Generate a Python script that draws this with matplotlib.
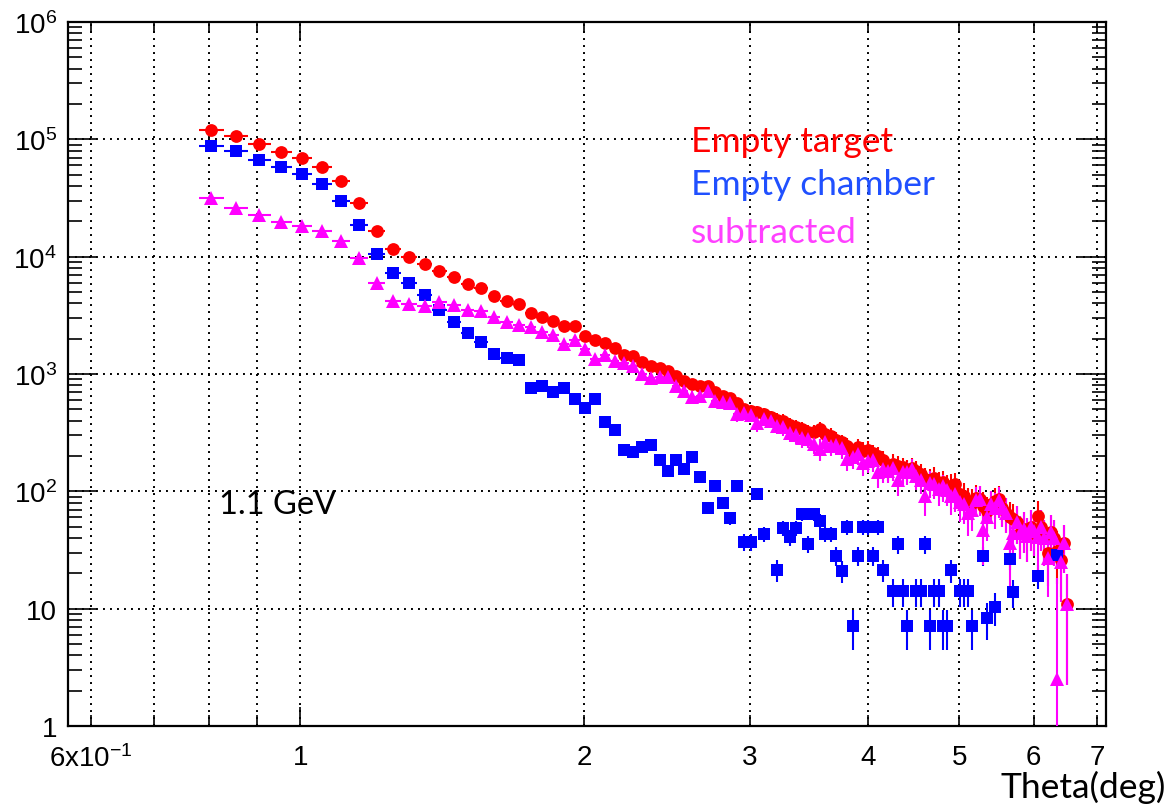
import numpy as np
import matplotlib
matplotlib.use('Agg')
import matplotlib.pyplot as plt
from matplotlib.ticker import FixedLocator, FixedFormatter, NullFormatter, LogLocator

plt.rcParams['font.family'] = ['Liberation Sans', 'DejaVu Sans']
plt.rcParams['mathtext.default'] = 'regular'

nan = np.nan

# bin centres, 0.05 deg wide bins
theta = np.round(0.805 + 0.05 * np.arange(115), 3)

# Empty target (red circles)
red = [1.2e5, 1.06e5, 9.1e4, 7.8e4, 7.0e4, 5.8e4, 4.4e4, 2.86e4, 1.67e4, 1.17e4,
       9.9e3, 8.7e3, 7.57e3, 6.69e3, 5.83e3, 5.38e3, 4.6e3, 4.2e3, 3.96e3, 3.3e3,
       3.07e3, 2.85e3, 2.55e3, 2.57e3, 2.12e3, 1.96e3, 1.82e3, 1.65e3, 1.46e3, 1.42e3,
       1.26e3, 1.18e3, 1.13e3, 1.07e3, 969, 868, 824, 787, 796, 700,
       655, 622, 564, 500, 485, 475, 460, 430, 408, 401,
       368, 352, 340, 323, 319, 340, 310, 298, 276, 262,
       245, 215, 238, 222, 227, 212, 200, 185, 155, 172,
       166, 160, 152, 158, 150, 140, 128, 125, 130, 118,
       120, 110, 112, 116, 95, 92, 83, 80, 88, 86,
       75, 68, 78, 82, 86, 72, 66, 60, 58, 55,
       44, 48, 42, 50, 46, 62, 50, 40, 30, 45,
       40, 31, 26, 36, 11]

# Empty chamber (blue squares), nan = empty bin
blue = [8.8e4, 8.0e4, 6.7e4, 5.8e4, 5.1e4, 4.15e4, 2.99e4, 1.87e4, 1.06e4, 7.3e3,
        6.0e3, 4.75e3, 3.52e3, 2.77e3, 2.24e3, 1.87e3, 1.47e3, 1.38e3, 1.32e3, 757,
        796, 700, 757, 614, 511, 614, 393, 333, 227, 215,
        238, 249, 185, 150, 185, 155, 195, 132, 72.6, 110,
        79.6, 59, 110, 36.8, 36.8, 94.5, 43.3, nan, 21.4, 48.7,
        40.6, 48.7, 64.2, 35.6, 64.2, 56.3, 43.3, 43.3, 28.3, 21.1,
        49.4, 7.07, 28.3, 49.4, 49.4, 28.3, 49.4, 21.4, nan, 14.1,
        35.4, 14.1, 7.07, nan, 14.1, 14.1, 35.4, 7.07, 14.1, 14.1,
        7.07, 7.07, 21.2, nan, 14.1, 14.1, 14.1, 7.07, nan, nan,
        28.3, 8.3, nan, 10.3, nan, nan, nan, 26.5, 13.8, nan,
        nan, nan, nan, nan, nan, 19.1, nan, nan, nan, nan,
        nan, 28.9, nan, nan, nan]

# subtracted (magenta triangles)
sub = [3.17e4, 2.59e4, 2.27e4, 1.99e4, 1.82e4, 1.66e4, 1.37e4, 9.7e3, 5.98e3, 4.2e3,
       3.96e3, 3.83e3, 4.1e3, 3.88e3, 3.52e3, 3.47e3, 3.05e3, 2.8e3, 2.62e3, 2.5e3,
       2.27e3, 2.13e3, 1.81e3, 1.96e3, 1.62e3, 1.35e3, 1.44e3, 1.3e3, 1.24e3, 1.18e3,
       1.0e3, 920, 950, 935, 796, 722, 634, 655, 720, 593,
       580, 563, 457, 463, 448, 380, 417, 400, 360, 352,
       315, 303, 285, 282, 255, 230, 262, 245, 248, 232,
       190, 195, 210, 175, 183, 184, 145, 155, 150, 158,
       125, 146, 145, 155, 136, 126, 92, 118, 116, 104,
       110, 103, 91, 95, 81, 78, 66, 70, 85, 86,
       47, 60, 78, 72, 84, 72, 66, 36, 44, 55,
       44, 48, 42, 50, 46, 41, 50, 40, 27, 45,
       40, 2.5, 25, 36, 11]

red = np.array(red)
blue = np.array(blue)
sub = np.array(sub)

# statistical errors (normalisation factor of the target run ~7)
red_err = np.sqrt(7.0 * red)
blue_err = np.sqrt(blue)
sub_err = np.sqrt(7.0 * red + np.nan_to_num(blue))

fig = plt.figure(figsize=(11.72, 8.12), dpi=100)
ax = fig.add_axes([68 / 1172, 85 / 812, (1106 - 68) / 1172, 704 / 812])
ax.set_xscale('log')
ax.set_yscale('log')


def draw(y, err, marker, col, ms):
    ok = ~np.isnan(y)
    x, y, err = theta[ok], y[ok], err[ok]
    lo = np.where(err >= y, y * 0.999, err)
    ax.errorbar(x, y, xerr=0.025, yerr=[lo, err], fmt=marker, color=col,
                ms=ms, mew=0, elinewidth=1.5, capsize=2.2, capthick=1.5, zorder=3)


draw(red, red_err, 'o', '#ff0000', 9.2)
draw(blue, blue_err, 's', '#0000ff', 8.6)
draw(sub, sub_err, '^', '#ff00ff', 10)

ax.set_xlim(0.567, 7.157)
ax.set_ylim(1, 1e6)

ax.xaxis.set_major_locator(FixedLocator([1]))
ax.xaxis.set_major_formatter(FixedFormatter(['1']))
ax.xaxis.set_minor_locator(FixedLocator([0.6, 0.7, 0.8, 0.9, 2, 3, 4, 5, 6, 7]))
ax.xaxis.set_minor_formatter(FixedFormatter(['6x10$^{-1}$', '', '', '', '2', '3', '4', '5', '6', '7']))

ax.yaxis.set_major_locator(FixedLocator(10.0 ** np.arange(7)))
ax.yaxis.set_major_formatter(FixedFormatter(['1', '10', '$10^{2}$', '$10^{3}$',
                                             '$10^{4}$', '$10^{5}$', '$10^{6}$']))
ax.yaxis.set_minor_locator(LogLocator(base=10, subs=np.arange(2, 10), numticks=50))
ax.yaxis.set_minor_formatter(NullFormatter())

ax.tick_params(axis='x', which='major', direction='in', length=14, width=1.2,
               top=True, labelsize=20, pad=13)
ax.tick_params(axis='x', which='minor', direction='in', length=8, width=1.2,
               top=True, labelsize=20, pad=13)
ax.tick_params(axis='y', which='major', direction='in', length=20, width=1.2,
               right=True, labelsize=20, pad=8)
ax.tick_params(axis='y', which='minor', direction='in', length=10, width=1.2,
               right=True)

grid_kw = dict(color='black', linestyle=(0, (1, 2.6)), linewidth=1.4)
ax.grid(True, which='both', axis='x', **grid_kw)
ax.grid(True, which='major', axis='y', **grid_kw)
ax.set_axisbelow(True)

for s in ax.spines.values():
    s.set_linewidth(1.6)

lab = dict(fontsize=25.5, family=['Lato', 'DejaVu Sans'], va='baseline', ha='left')
fig.text(691 / 1172, 1 - 152 / 812, 'Empty target', color='#ff0000', **lab)
fig.text(691 / 1172, 1 - 195 / 812, 'Empty chamber', color='#2050ff', **lab)
fig.text(691 / 1172, 1 - 243 / 812, 'subtracted', color='#ff40ff', **lab)
fig.text(219 / 1172, 1 - 514 / 812, '1.1 GeV', color='black',
         fontsize=23.5, family=['Lato', 'DejaVu Sans'], va='baseline', ha='left')
fig.text(1166 / 1172, 1 - 798 / 812, 'Theta(deg)', color='black',
         fontsize=25.5, family=['Lato', 'DejaVu Sans'], va='baseline', ha='right')

fig.savefig('out.png', dpi=100)
